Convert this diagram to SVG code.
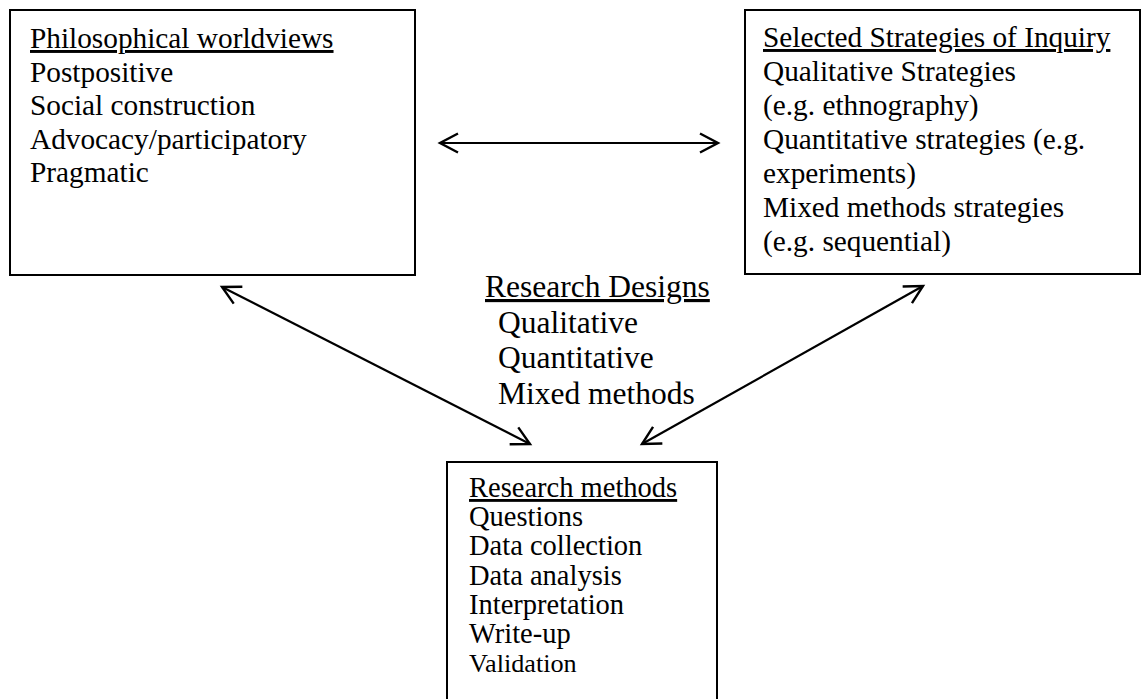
<svg xmlns="http://www.w3.org/2000/svg" width="1141" height="699" viewBox="0 0 1141 699">
  <style>
    .box { fill: #ffffff; stroke: #000000; stroke-width: 2; }
    .t { font-family: "Liberation Serif", "Times New Roman", serif; fill: #000000; }
    .lg { font-size: 29.3px; }
    .md { font-size: 31.5px; }
    .sm { font-size: 28.5px; }
    .xs { font-size: 26.2px; }
    .u { text-decoration: underline; }
    .conn { stroke: #000000; stroke-width: 2.2; fill: none; }
  </style>
  <defs>
    <marker id="open-arrow" markerUnits="userSpaceOnUse" viewBox="-24 -14 28 28" markerWidth="28" markerHeight="28" refX="0" refY="0" orient="auto-start-reverse">
      <path d="M -18 -9.5 L 0 0 L -18 9.5" fill="none" stroke="#000000" stroke-width="2.4" stroke-linejoin="miter"/>
    </marker>
  </defs>

  <rect width="1141" height="699" fill="#ffffff"/>

  <!-- Philosophical worldviews -->
  <g id="worldviews">
    <rect class="box" x="10" y="10" width="405" height="265"/>
    <text class="t lg" x="30">
      <tspan class="u" x="30" y="48">Philosophical worldviews</tspan>
      <tspan x="30" y="82">Postpositive</tspan>
      <tspan x="30" y="115">Social construction</tspan>
      <tspan x="30" y="149">Advocacy/participatory</tspan>
      <tspan x="30" y="182">Pragmatic</tspan>
    </text>
  </g>

  <!-- Selected strategies of inquiry -->
  <g id="strategies">
    <rect class="box" x="745" y="10" width="395" height="264"/>
    <text class="t lg" x="763">
      <tspan class="u" x="763" y="47">Selected Strategies of Inquiry</tspan>
      <tspan x="763" y="81">Qualitative Strategies</tspan>
      <tspan x="763" y="115">(e.g. ethnography)</tspan>
      <tspan x="763" y="149">Quantitative strategies (e.g.</tspan>
      <tspan x="763" y="183">experiments)</tspan>
      <tspan x="763" y="217">Mixed methods strategies</tspan>
      <tspan x="763" y="251">(e.g. sequential)</tspan>
    </text>
  </g>

  <!-- Research designs (free label) -->
  <g id="designs">
    <text class="t md">
      <tspan class="u" x="485" y="297">Research Designs</tspan>
      <tspan x="498" y="333">Qualitative</tspan>
      <tspan x="498" y="368">Quantitative</tspan>
      <tspan x="498" y="404">Mixed methods</tspan>
    </text>
  </g>

  <!-- Research methods -->
  <g id="methods">
    <rect class="box" x="447" y="462" width="270" height="240"/>
    <text class="t sm">
      <tspan class="u" x="469" y="497">Research methods</tspan>
      <tspan x="469" y="526">Questions</tspan>
      <tspan x="469" y="555">Data collection</tspan>
      <tspan x="469" y="585">Data analysis</tspan>
      <tspan x="469" y="614">Interpretation</tspan>
      <tspan x="469" y="643">Write-up</tspan>
      <tspan class="xs" x="469" y="672">Validation</tspan>
    </text>
  </g>

  <!-- Connectors -->
  <g id="connectors">
    <line class="conn" x1="440" y1="143" x2="718" y2="143" marker-start="url(#open-arrow)" marker-end="url(#open-arrow)"/>
    <line class="conn" x1="222" y1="287" x2="530" y2="444" marker-start="url(#open-arrow)" marker-end="url(#open-arrow)"/>
    <line class="conn" x1="642" y1="444" x2="923" y2="286" marker-start="url(#open-arrow)" marker-end="url(#open-arrow)"/>
  </g>
</svg>
